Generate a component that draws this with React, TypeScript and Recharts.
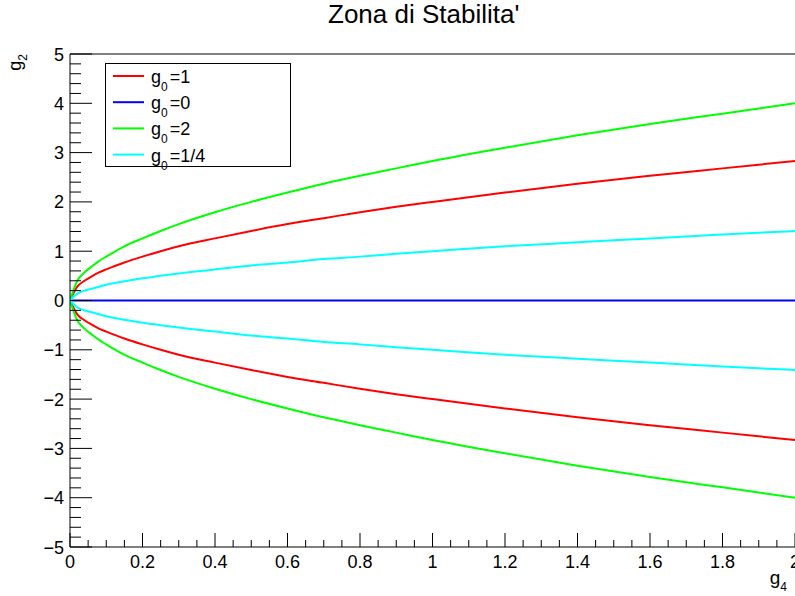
import { LineChart, Line, XAxis, YAxis, ReferenceLine, Label } from 'recharts';

const g4 = [0, 0.02, 0.04, 0.06, 0.08, 0.1, 0.15, 0.2, 0.25, 0.3, 0.4, 0.5, 0.6, 0.7, 0.8, 0.9, 1.0, 1.2, 1.4, 1.6, 1.8, 2.0];

const g0is1Up = [0, 0.28, 0.4, 0.49, 0.57, 0.63, 0.77, 0.89, 1.0, 1.1, 1.26, 1.41, 1.55, 1.67, 1.79, 1.9, 2.0, 2.19, 2.37, 2.53, 2.68, 2.83];
const g0is1Down = [0, -0.28, -0.4, -0.49, -0.57, -0.63, -0.77, -0.89, -1.0, -1.1, -1.26, -1.41, -1.55, -1.67, -1.79, -1.9, -2.0, -2.19, -2.37, -2.53, -2.68, -2.83];
const g0is0 = [0, 0, 0, 0, 0, 0, 0, 0, 0, 0, 0, 0, 0, 0, 0, 0, 0, 0, 0, 0, 0, 0];
const g0is2Up = [0, 0.4, 0.57, 0.69, 0.8, 0.89, 1.1, 1.26, 1.41, 1.55, 1.79, 2.0, 2.19, 2.37, 2.53, 2.68, 2.83, 3.1, 3.35, 3.58, 3.79, 4.0];
const g0is2Down = [0, -0.4, -0.57, -0.69, -0.8, -0.89, -1.1, -1.26, -1.41, -1.55, -1.79, -2.0, -2.19, -2.37, -2.53, -2.68, -2.83, -3.1, -3.35, -3.58, -3.79, -4.0];
const g0isQuarterUp = [0, 0.14, 0.2, 0.24, 0.28, 0.32, 0.39, 0.45, 0.5, 0.55, 0.63, 0.71, 0.77, 0.84, 0.89, 0.95, 1.0, 1.1, 1.18, 1.26, 1.34, 1.41];
const g0isQuarterDown = [0, -0.14, -0.2, -0.24, -0.28, -0.32, -0.39, -0.45, -0.5, -0.55, -0.63, -0.71, -0.77, -0.84, -0.89, -0.95, -1.0, -1.1, -1.18, -1.26, -1.34, -1.41];

const legendLabels = ['1', '0', '2', '1/4'];
const legendColors = ['#ff0000', '#0000ff', '#00ff00', '#00ffff'];

const xTicks = Array.from({ length: 41 }, (_, i) => Number((i * 0.05).toFixed(2)));
const yTicks = Array.from({ length: 51 }, (_, i) => Number((-5 + i * 0.2).toFixed(1)));

const FONT = '"Liberation Sans", Arial, Helvetica, sans-serif';

const data = g4.map((x, i) => ({
  g4: x,
  r1: g0is1Up[i],
  r2: g0is1Down[i],
  b: g0is0[i],
  gr1: g0is2Up[i],
  gr2: g0is2Down[i],
  c1: g0isQuarterUp[i],
  c2: g0isQuarterDown[i],
}));

const isMajor = (v: number, step: number) => Math.abs(v / step - Math.round(v / step)) < 1e-6;

function XTick(props: any) {
  const { x, y, payload } = props;
  const v = payload.value as number;
  const major = isMajor(v, 0.2);
  return (
    <g>
      <line x1={x} y1={y} x2={x} y2={y - (major ? 14 : 7)} stroke="#000" strokeWidth={1} />
      {major && (
        <text x={x} y={y + 21} textAnchor="middle" fontSize={18} fontFamily={FONT} fill="#000">
          {String(Number(v.toFixed(1)))}
        </text>
      )}
    </g>
  );
}

function YTick(props: any) {
  const { x, y, payload } = props;
  const v = payload.value as number;
  const major = isMajor(v, 1);
  return (
    <g>
      <line x1={x} y1={y} x2={x + (major ? 22 : 11)} y2={y} stroke="#000" strokeWidth={1} />
      {major && (
        <text x={x - 6} y={y + 6.5} textAnchor="end" fontSize={18} fontFamily={FONT} fill="#000">
          {v < 0 ? '\u2212' + Math.abs(Math.round(v)) : String(Math.round(v))}
        </text>
      )}
    </g>
  );
}

function LegendBox() {
  return (
    <svg width={186} height={115} style={{ display: 'block', overflow: 'visible' }}>
      <rect x={0.5} y={0.5} width={185} height={103} fill="#fff" stroke="#000" strokeWidth={1} />
      {legendLabels.map((lab, i) => {
        const cy = 13 + i * 26.2;
        return (
          <g key={lab}>
            <line x1={8} x2={39} y1={cy} y2={cy} stroke={legendColors[i]} strokeWidth={2} />
            <text x={46} y={cy + 7} fontSize={18} fontFamily={FONT} fill="#000">
              g
              <tspan fontSize={12} dy={8}>0</tspan>
              <tspan fontSize={18} dy={-8} dx={2}>={lab}</tspan>
            </text>
          </g>
        );
      })}
    </svg>
  );
}

export default function App() {
  return (
    <div style={{ position: 'absolute', left: 0, top: 0, width: 795, height: 596, background: '#fff' }}>
      <div
        style={{
          position: 'absolute',
          left: 328,
          top: 1,
          fontFamily: FONT,
          fontSize: 26,
          lineHeight: '26px',
          whiteSpace: 'nowrap',
          color: '#000',
        }}
      >
        Zona di Stabilita'
      </div>
      <LineChart width={795} height={596} data={data} margin={{ top: 54, right: 0, left: 10, bottom: 19 }}>
        <XAxis
          dataKey="g4"
          type="number"
          domain={[0, 2]}
          ticks={xTicks}
          interval={0}
          height={30}
          tickSize={0}
          tickMargin={0}
          tickLine={false}
          axisLine={{ stroke: '#000', strokeWidth: 1 }}
          tick={(p: any) => <XTick {...p} />}
          allowDataOverflow
        >
          <Label
            content={() => (
              <text x={787} y={584} textAnchor="end" fontSize={19} fontFamily={FONT} fill="#000">
                g<tspan fontSize={12} dy={7}>4</tspan>
              </text>
            )}
          />
        </XAxis>
        <YAxis
          type="number"
          domain={[-5, 5]}
          ticks={yTicks}
          interval={0}
          width={60}
          tickSize={0}
          tickMargin={0}
          tickLine={false}
          axisLine={{ stroke: '#000', strokeWidth: 1 }}
          tick={(p: any) => <YTick {...p} />}
          allowDataOverflow
        >
          <Label
            content={() => (
              <text
                x={21}
                y={54}
                textAnchor="end"
                fontSize={18}
                fontFamily={FONT}
                fill="#000"
                transform="rotate(-90 21 54)"
              >
                g<tspan fontSize={12} dy={6}>2</tspan>
              </text>
            )}
          />
        </YAxis>
        <ReferenceLine y={5} stroke="#000" strokeWidth={1} />
        <Line dataKey="r1" type="monotone" stroke="#ff0000" strokeWidth={2} dot={false} isAnimationActive={false} />
        <Line dataKey="r2" type="monotone" stroke="#ff0000" strokeWidth={2} dot={false} isAnimationActive={false} />
        <Line dataKey="b" type="monotone" stroke="#0000ff" strokeWidth={2} dot={false} isAnimationActive={false} />
        <Line dataKey="gr1" type="monotone" stroke="#00ff00" strokeWidth={2} dot={false} isAnimationActive={false} />
        <Line dataKey="gr2" type="monotone" stroke="#00ff00" strokeWidth={2} dot={false} isAnimationActive={false} />
        <Line dataKey="c1" type="monotone" stroke="#00ffff" strokeWidth={2} dot={false} isAnimationActive={false} />
        <Line dataKey="c2" type="monotone" stroke="#00ffff" strokeWidth={2} dot={false} isAnimationActive={false} />
      </LineChart>
      <div style={{ position: 'absolute', left: 105, top: 63 }}>
        <LegendBox />
      </div>
    </div>
  );
}
